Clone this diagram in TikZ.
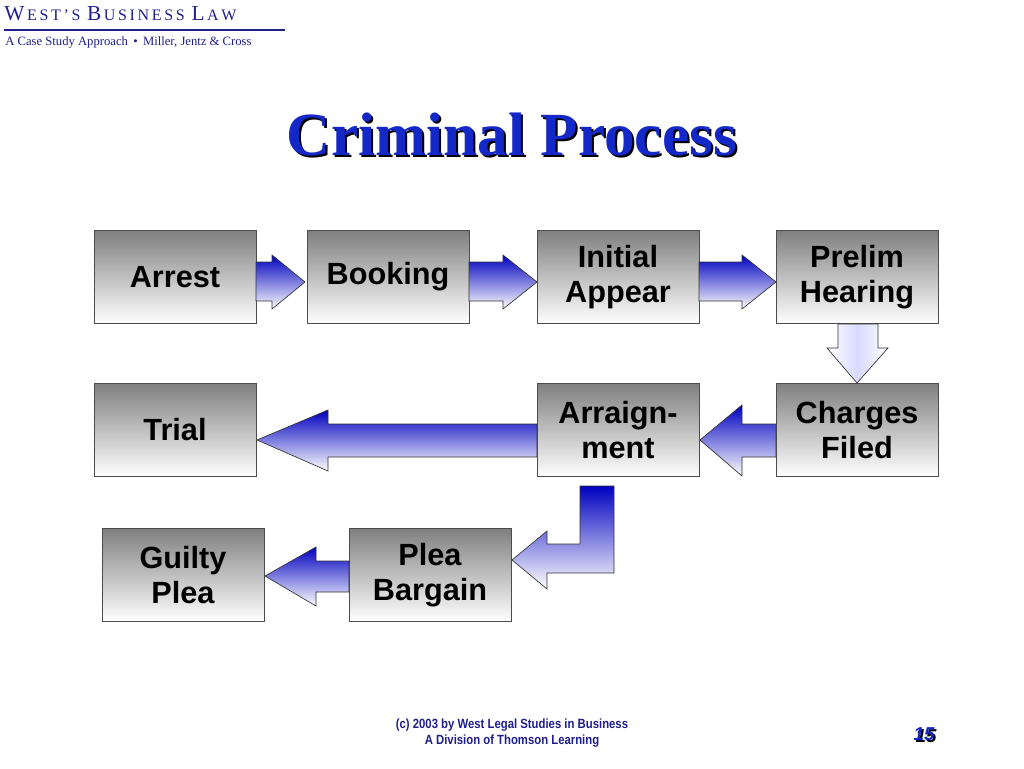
\documentclass[tikz,border=0pt]{standalone}
\usepackage{fontspec}
\setmainfont{Liberation Serif}
\setsansfont{Liberation Sans}
\usetikzlibrary{positioning}
\definecolor{navy}{RGB}{30,30,140}
\definecolor{titleblue}{RGB}{20,40,200}
\newcommand{\shadowed}[1]{\makebox[0pt][l]{\kern1.5pt\raisebox{-1.5pt}{\color{black}#1}}{\color{titleblue}#1}}
\newcommand{\bigsc}[2]{{\fontsize{16}{18}\selectfont #1}{\fontsize{12}{14}\selectfont #2}}
\tikzset{
  stage/.style={draw=black!70, top color=black!50, bottom color=white,
    minimum width=121.5pt, minimum height=69.75pt, inner sep=0pt,
    font=\sffamily\bfseries\fontsize{23}{26}\selectfont, align=center},
  blockarrow/.style={draw=black!80, line width=0.5pt, top color=blue!75!black, bottom color=white},
  blockarrowv/.style={draw=black!80, line width=0.5pt, left color=white, right color=white, middle color=blue!15},
}
\begin{document}
\begin{tikzpicture}[x=0.75pt,y=-0.75pt]
  \useasboundingbox (0,0) rectangle (1024,768);
  % header
  \node[anchor=west, text=navy, inner sep=0pt] (brand) at (4,14)
    {\bigsc{W}{\,E\,S\,T\,'\,S}\enspace\bigsc{B}{\,U\,S\,I\,N\,E\,S\,S}\enspace\bigsc{L}{\,A\,W}};
  \draw[navy, line width=1.2pt] (4,30) -- (285,30);
  \node[anchor=west, text=navy, font=\fontsize{9.5}{11}\selectfont, inner sep=0pt] (sub) at (5,42) {A Case Study Approach \,\textbullet\, Miller, Jentz \& Cross};
  % title
  \node[font=\bfseries\fontsize{46}{52}\selectfont] (title) at (512,136) {\shadowed{Criminal Process}};
  % stages
  \node[stage] (arrest)  at (175,277) {Arrest};
  \node[stage] (booking) at (388,277) {Booking};
  \node[stage] (initial) at (618,277) {Initial\\Appear};
  \node[stage] (prelim)  at (857,277) {Prelim\\Hearing};
  \node[stage] (trial)   at (175,430) {Trial};
  \node[stage] (arraign) at (618,430) {Arraign-\\ment};
  \node[stage] (charges) at (857,430) {Charges\\Filed};
  \node[stage] (guilty)  at (183,575) {Guilty\\Plea};
  \node[stage] (bargain) at (430,575) {Plea\\Bargain};
  % arrows
  \draw[blockarrow] (256,262) -- (272,262) -- (272,255) -- (305,282) -- (272,309) -- (272,301) -- (256,301) -- cycle;
  \draw[blockarrow] (469,262) -- (503,262) -- (503,255) -- (537,282) -- (503,309) -- (503,301) -- (469,301) -- cycle;
  \draw[blockarrow] (699,262) -- (742,262) -- (742,255) -- (776,282) -- (742,309) -- (742,301) -- (699,301) -- cycle;
  \draw[blockarrowv] (838,324) -- (878,324) -- (878,348) -- (888,348) -- (857,383) -- (827,348) -- (838,348) -- cycle;
  \draw[blockarrow] (776,424) -- (742,424) -- (742,405) -- (700,440) -- (742,476) -- (742,457) -- (776,457) -- cycle;
  \draw[blockarrow] (537,424) -- (328,424) -- (328,410) -- (257,440) -- (328,471) -- (328,457) -- (537,457) -- cycle;
  \draw[blockarrow] (580,486) -- (614,486) -- (614,573) -- (547,573) -- (547,589) -- (512,560) -- (547,531) -- (547,544) -- (580,544) -- cycle;
  \draw[blockarrow] (349,561) -- (316,561) -- (316,547) -- (265,576) -- (316,606) -- (316,592) -- (349,592) -- cycle;
  % footer
  \node[text=navy, font=\sffamily\bfseries\fontsize{10}{12.5}\selectfont, align=center, xscale=0.85] (foot) at (512,733) {(c) 2003 by West Legal Studies in Business\\A Division of Thomson Learning};
  \node[font=\sffamily\bfseries\itshape\fontsize{14}{16}\selectfont] (page) at (924,735) {\shadowed{15}};
\end{tikzpicture}
\end{document}
